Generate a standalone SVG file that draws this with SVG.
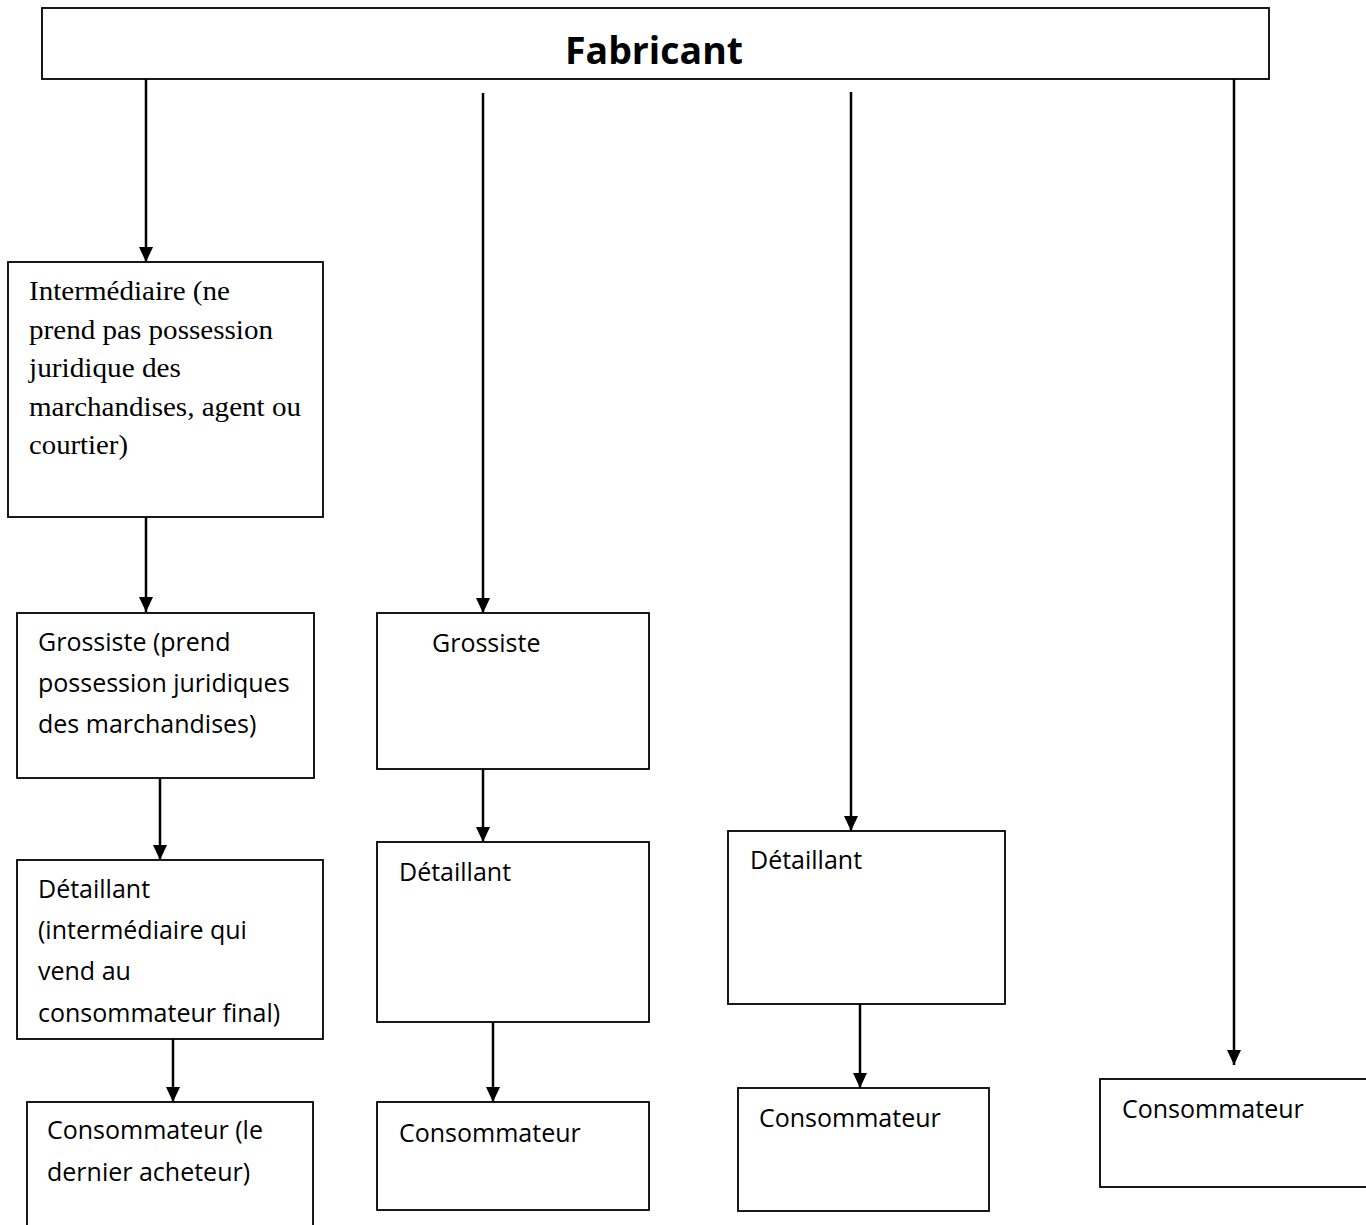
<svg xmlns="http://www.w3.org/2000/svg" width="1366" height="1225" viewBox="0 0 1366 1225">
  <style>
    .box { fill: #ffffff; stroke: #000000; stroke-width: 1.8; }
    .link { fill: none; stroke: #000000; stroke-width: 2.5; marker-end: url(#head); }
    .sans { font-family: "Open Sans", "Liberation Sans", sans-serif; font-size: 25px; fill: #000000; }
    .serif { font-family: "Liberation Serif", "Times New Roman", serif; font-size: 28px; fill: #000000; }
    .title { font-family: "Open Sans", "Liberation Sans", sans-serif; font-size: 38px; font-weight: bold; fill: #000000; }
  </style>
  <defs>
    <marker id="head" markerUnits="userSpaceOnUse" markerWidth="16" markerHeight="16" refX="15" refY="7" orient="auto">
      <polygon points="0,0 15,7 0,14" fill="#000000"/>
    </marker>
  </defs>

  <rect width="1366" height="1225" fill="#ffffff"/>

  <!-- connectors -->
  <g id="connectors">
    <path class="link" d="M146,79 V262"/>
    <path class="link" d="M146,517 V612"/>
    <path class="link" d="M160,778 V860"/>
    <path class="link" d="M173,1039 V1102"/>
    <path class="link" d="M483,93 V613"/>
    <path class="link" d="M483,769 V842"/>
    <path class="link" d="M493,1022 V1102"/>
    <path class="link" d="M851,92 V831"/>
    <path class="link" d="M860,1004 V1088"/>
    <path class="link" d="M1234,79 V1065"/>
  </g>

  <!-- top level -->
  <g id="fabricant">
    <rect class="box" x="42" y="8" width="1227" height="71"/>
    <text class="title" x="565" y="64" textLength="178" lengthAdjust="spacingAndGlyphs">Fabricant</text>
  </g>

  <!-- channel 1 -->
  <g id="intermediaire">
    <rect class="box" x="8" y="262" width="315" height="255"/>
    <text class="serif" x="29" y="300" textLength="201" lengthAdjust="spacingAndGlyphs">Intermédiaire (ne</text>
    <text class="serif" x="29" y="339" textLength="244" lengthAdjust="spacingAndGlyphs">prend pas possession</text>
    <text class="serif" x="29" y="377" textLength="152" lengthAdjust="spacingAndGlyphs">juridique des</text>
    <text class="serif" x="29" y="416" textLength="272" lengthAdjust="spacingAndGlyphs">marchandises, agent ou</text>
    <text class="serif" x="29" y="454" textLength="99" lengthAdjust="spacingAndGlyphs">courtier)</text>
  </g>
  <g id="grossiste-1">
    <rect class="box" x="17" y="613" width="297" height="165"/>
    <text class="sans" x="38" y="651">Grossiste (prend</text>
    <text class="sans" x="38" y="692">possession juridiques</text>
    <text class="sans" x="38" y="733">des marchandises)</text>
  </g>
  <g id="detaillant-1">
    <rect class="box" x="17" y="860" width="306" height="179"/>
    <text class="sans" x="38" y="898">Détaillant</text>
    <text class="sans" x="38" y="939">(intermédiaire qui</text>
    <text class="sans" x="38" y="980">vend au</text>
    <text class="sans" x="38" y="1022">consommateur final)</text>
  </g>
  <g id="consommateur-1">
    <rect class="box" x="27" y="1102" width="286" height="140"/>
    <text class="sans" x="47" y="1139">Consommateur (le</text>
    <text class="sans" x="47" y="1181">dernier acheteur)</text>
  </g>

  <!-- channel 2 -->
  <g id="grossiste-2">
    <rect class="box" x="377" y="613" width="272" height="156"/>
    <text class="sans" x="432" y="652">Grossiste</text>
  </g>
  <g id="detaillant-2">
    <rect class="box" x="377" y="842" width="272" height="180"/>
    <text class="sans" x="399" y="881">Détaillant</text>
  </g>
  <g id="consommateur-2">
    <rect class="box" x="377" y="1102" width="272" height="108"/>
    <text class="sans" x="399" y="1142">Consommateur</text>
  </g>

  <!-- channel 3 -->
  <g id="detaillant-3">
    <rect class="box" x="728" y="831" width="277" height="173"/>
    <text class="sans" x="750" y="869">Détaillant</text>
  </g>
  <g id="consommateur-3">
    <rect class="box" x="738" y="1088" width="251" height="123"/>
    <text class="sans" x="759" y="1127">Consommateur</text>
  </g>

  <!-- channel 4 -->
  <g id="consommateur-4">
    <rect class="box" x="1100" y="1079" width="300" height="108"/>
    <text class="sans" x="1122" y="1118">Consommateur</text>
  </g>
</svg>
